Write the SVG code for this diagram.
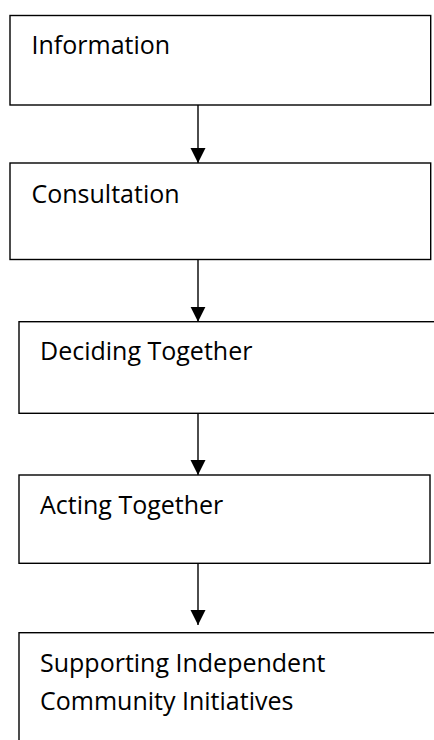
<svg xmlns="http://www.w3.org/2000/svg" width="434" height="740" viewBox="0 0 434 740">
<style>
.box{fill:#fff;stroke:#000;stroke-width:1.4}
.lbl{font-family:"Open Sans","Liberation Sans",sans-serif;font-size:25px;fill:#000}
.conn{stroke:#000;stroke-width:1.4;fill:none}
</style>
<defs>
<marker id="ah" markerUnits="userSpaceOnUse" markerWidth="16" markerHeight="16" refX="15" refY="7.5" orient="auto">
<path d="M0,0 L15,7.5 L0,15 Z" fill="#000"/>
</marker>
</defs>
<rect width="434" height="740" fill="#fff"/>
<g id="n1"><rect class="box" x="10" y="15.5" width="420.7" height="89.5"/><text class="lbl" x="31.5" y="54">Information</text></g>
<g id="n2"><rect class="box" x="10" y="163" width="420.7" height="96.5"/><text class="lbl" x="31.5" y="203">Consultation</text></g>
<g id="n3"><rect class="box" x="19" y="321.7" width="430" height="91.6"/><text class="lbl" x="40" y="360">Deciding Together</text></g>
<g id="n4"><rect class="box" x="19" y="475" width="411" height="88.3"/><text class="lbl" x="40" y="514">Acting Together</text></g>
<g id="n5"><rect class="box" x="19" y="632.7" width="430" height="130"/><text class="lbl" x="40" y="671.7">Supporting Independent</text><text class="lbl" x="40" y="710">Community Initiatives</text></g>
<g id="connectors">
<line class="conn" x1="198" y1="105" x2="198" y2="163" marker-end="url(#ah)"/>
<line class="conn" x1="198" y1="259.5" x2="198" y2="321.7" marker-end="url(#ah)"/>
<line class="conn" x1="198" y1="413.3" x2="198" y2="475" marker-end="url(#ah)"/>
<line class="conn" x1="198" y1="563.3" x2="198" y2="625" marker-end="url(#ah)"/>
</g>
</svg>
